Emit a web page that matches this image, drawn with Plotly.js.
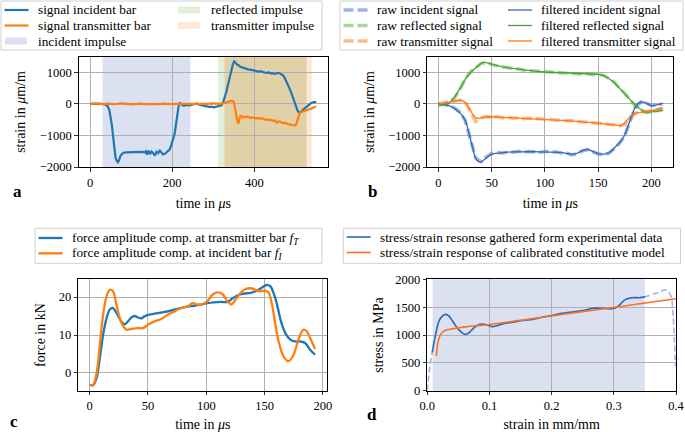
<!DOCTYPE html>
<html>
<head>
<meta charset="utf-8">
<script src="https://cdn.plot.ly/plotly-3.0.1.min.js"></script>
<style>body{margin:0;background:#fff}#fig{width:685px;height:432px}</style>
</head>
<body>
<div id="fig"></div>
<script>
// ---- (a) measured bar signals, strain in um/m over time in us
var tIncA = [0,10,20,30,38,43,47,50,53,56,59,62,65,68,71,74,78,82,88,95,102,110,118,126,130,133,136,139,142,146,150,154,158,162,166,170,174,178,182,186,190,194,198,202,206,210,213,216,219,222,226,230,236,242,248,254,260,266,272,278,284,290,296,302,308,314,320,324,328,332,336,340,344,348,351,354,358,362,366,370,375,380,385,390,395,400,405,410,415,420,425,430,435,440,445,450,455,460,465,470,474,478,482,486,490,494,498,502,506,510,514,518,522,526,530,534,538,542,546,551];
var sigIncA = [0,5,-10,0,-30,-80,-200,-400,-650,-1000,-1400,-1700,-1800,-1850,-1780,-1650,-1580,-1550,-1540,-1530,-1520,-1530,-1520,-1530,-1520,-1540,-1500,-1610,-1480,-1590,-1510,-1560,-1640,-1520,-1560,-1480,-1560,-1600,-1580,-1540,-1500,-1450,-1300,-1150,-950,-600,-300,-50,40,-20,-50,-60,-40,-50,-30,-20,10,-30,-40,-60,-80,-100,-90,-110,-90,-70,-50,40,180,380,600,850,1050,1250,1340,1310,1240,1220,1170,1150,1120,1100,1090,1080,1060,1050,1040,1020,1030,1000,990,980,990,960,970,950,960,980,940,900,820,720,600,480,350,200,60,-100,-230,-280,-260,-200,-150,-120,-60,-20,20,40,60,40];
var tTraA = [0,15,30,45,60,75,90,105,120,135,150,165,180,195,210,225,240,255,270,285,300,315,325,332,338,342,346,350,353,356,359,362,365,368,372,376,380,385,390,395,400,405,410,415,420,425,430,435,440,445,450,455,460,465,470,475,480,485,490,495,499,502,505,508,511,515,520,525,530,535,540,545,551];
var sigTraA = [0,10,-10,5,-15,10,-5,-20,5,-10,0,-15,5,-10,0,-5,10,-15,0,-5,10,0,20,40,60,80,100,60,-100,-350,-560,-620,-420,-380,-440,-410,-420,-400,-450,-430,-440,-470,-450,-480,-460,-500,-490,-520,-500,-540,-520,-600,-550,-580,-610,-600,-640,-650,-670,-680,-690,-650,-520,-380,-290,-250,-230,-220,-200,-170,-150,-110,-95];
var incidentWin = [30.5, 244.5];
var reflectedWin = [312, 528];
var transmitterWin = [327, 540];

// ---- (b) separated waves, raw and filtered
var tRawB = [0,5,10,15,20,25,30,35,40,45,50,55,60,65,70,75,80,85,90,95,100,105,110,115,120,125,130,135,140,145,150,155,160,165,170,175,180,185,190,195,200,205,210];
var rawIncB = [0,-30,-50,-130,-260,-520,-1100,-1720,-1830,-1680,-1570,-1540,-1560,-1520,-1530,-1500,-1530,-1510,-1520,-1540,-1500,-1530,-1520,-1560,-1550,-1620,-1580,-1490,-1450,-1510,-1590,-1610,-1560,-1420,-1250,-1000,-520,-100,50,30,-60,-40,-10];
var rawRefB = [-50,-20,40,180,450,780,1010,1140,1270,1310,1240,1200,1180,1140,1110,1100,1060,1050,1020,1010,1000,990,980,980,960,970,950,940,950,920,930,900,800,690,490,330,120,-60,-190,-280,-250,-220,-190];
var rawTraB = [-20,30,50,80,120,60,-250,-560,-450,-400,-430,-400,-450,-420,-460,-440,-470,-450,-480,-470,-500,-490,-520,-510,-540,-530,-560,-570,-580,-600,-620,-630,-650,-660,-700,-650,-420,-300,-270,-240,-230,-180,-140];
var tIncB = [0,5,10,15,20,23,26,28,30,32,34,36,38,40,42,45,48,52,56,60,65,70,75,80,85,90,95,100,105,110,115,120,125,130,135,140,145,150,155,160,163,166,169,172,175,178,181,184,187,190,193,196,199,202,205,208,211];
var filIncB = [10,-20,-60,-150,-280,-400,-600,-850,-1150,-1450,-1650,-1780,-1840,-1850,-1800,-1700,-1630,-1580,-1560,-1545,-1530,-1520,-1515,-1515,-1515,-1515,-1520,-1525,-1525,-1530,-1540,-1570,-1600,-1570,-1480,-1440,-1500,-1580,-1600,-1550,-1480,-1380,-1280,-1150,-980,-700,-420,-150,0,60,50,0,-50,-60,-40,-20,10];
var tRefB = [0,5,10,15,20,25,30,35,40,43,46,50,55,60,70,80,90,100,110,120,130,140,150,155,160,165,170,175,180,185,190,195,200,205,211];
var filRefB = [-40,-30,20,200,470,770,990,1150,1280,1320,1290,1250,1210,1170,1120,1070,1030,1005,990,975,960,945,935,890,800,670,500,320,130,-50,-180,-270,-260,-240,-200];
var tTraB = [0,5,10,15,20,23,26,29,32,35,38,42,50,60,70,80,90,100,110,120,130,140,150,160,165,170,173,176,179,182,186,190,195,200,205,211];
var filTraB = [-10,20,60,90,110,90,20,-150,-330,-440,-470,-420,-410,-430,-445,-460,-470,-490,-510,-530,-555,-575,-610,-650,-670,-690,-670,-560,-430,-340,-290,-260,-245,-220,-180,-130];

// ---- (c) force equilibrium, kN
var tFT = [0,3,6,8.8,11.6,14.5,17.3,20,23,27,30,33,35.7,38.6,41.4,44.2,47,50,55.6,61.3,67,72.6,78.3,84,89.6,95.3,101,106.7,112.3,118,122.3,126.5,132,138,143.5,147.8,152,155,157.7,160.6,164,167.7,172,176,180.4,184.7,189,193.2];
var forceT = [-3.1,-3.2,-1.3,4.0,10.1,14.4,16.7,17.1,15.8,13.6,12.8,13.6,14.6,15.0,14.6,14.4,14.9,15.3,15.6,15.9,16.2,16.7,17.1,17.5,17.7,18.0,18.4,18.6,18.7,18.7,19.6,20.4,20.9,21.1,21.7,22.5,23.2,22.8,21.0,18.0,13.6,10.5,8.8,8.3,8.3,7.9,6.1,4.8];
var tFI = [0,3,6,8.8,11.6,14.5,17.3,20,23,27.2,31.5,35.7,41.4,45.7,50,55.6,61.3,67,72.6,78.3,84,88.2,92.5,96.7,101,105.3,109.5,113.8,118,121.4,125,129.4,133.6,137.9,142.1,146.4,150.6,153.5,156.3,159.2,162,166.2,170.5,174.8,179,183.3,186.1,189,193.2];
var forceI = [-3.1,-3.1,0,7.5,15.4,20.2,21.9,21.5,18.0,13.2,11.4,11.6,11.8,11.8,12.7,13.6,14.2,15.3,16.2,17.1,17.5,18.4,18.0,18.1,18.9,20.6,21.2,20.8,18.9,18.0,19.3,21.1,22.1,22.3,21.9,21.5,21.7,21.1,18.0,12.7,8.3,4.4,3.1,4.8,8.8,11.4,11.0,9.2,6.3];

// ---- (d) stress/strain, MPa over mm/mm
var strainExp = [0,0.0027,0.0054,0.008,0.0134,0.0188,0.0242,0.0295,0.035,0.04,0.048,0.056,0.0617,0.067,0.075,0.083,0.091,0.099,0.105,0.11,0.121,0.137,0.153,0.169,0.185,0.196,0.212,0.223,0.239,0.255,0.266,0.282,0.295,0.303,0.311,0.319,0.33,0.341,0.35,0.362,0.373,0.381,0.3865,0.392,0.3956,0.3977,0.399];
var stressExp = [0,290,530,690,1010,1250,1340,1370,1340,1260,1130,1040,1010,1040,1130,1190,1190,1170,1150,1160,1200,1230,1260,1280,1320,1340,1380,1400,1420,1450,1480,1480,1470,1490,1560,1640,1670,1670,1685,1730,1770,1810,1790,1690,1310,830,440];
var strainModel = [0.0145,0.017,0.0195,0.0215,0.0245,0.0268,0.031,0.035,0.042,0.051,0.065,0.078,0.1,0.15,0.2,0.25,0.3,0.35,0.4];
var stressModel = [620,860,960,1010,1050,1070,1090,1100,1115,1130,1150,1165,1190,1265,1340,1420,1495,1575,1650];
var calibWin = [0.008, 0.35];

var W = 685, H = 432;
function px(x) { return x / W; }
function py(y) { return 1 - y / H; }

var serif = 'Liberation Serif, Times New Roman, serif';
var blue = '#1f77b4', orange = '#ff7f0e';

var inWin = function (xs, ys, win) {
    var ox = [], oy = [];
    for (var i = 0; i < xs.length; i++) {
        if (xs[i] >= win[0] && xs[i] <= win[1]) { ox.push(xs[i]); oy.push(ys[i]); }
    }
    return {x: ox, y: oy};
};
var expSolid = inWin(strainExp, stressExp, calibWin);

var traces = [
    {x: tIncA, y: sigIncA, xaxis: 'x', yaxis: 'y', name: 'signal incident bar', line: {color: blue, width: 2.2}},
    {x: tTraA, y: sigTraA, xaxis: 'x', yaxis: 'y', name: 'signal transmitter bar', line: {color: orange, width: 2.2}},

    {x: tRawB, y: rawIncB, xaxis: 'x2', yaxis: 'y2', name: 'raw incident signal', line: {color: 'rgba(95,130,210,0.6)', width: 3.5, dash: '10px,4px'}},
    {x: tRawB, y: rawRefB, xaxis: 'x2', yaxis: 'y2', name: 'raw reflected signal', line: {color: 'rgba(110,190,80,0.6)', width: 3.5, dash: '10px,4px'}},
    {x: tRawB, y: rawTraB, xaxis: 'x2', yaxis: 'y2', name: 'raw transmitter signal', line: {color: 'rgba(253,140,60,0.6)', width: 3.5, dash: '10px,4px'}},
    {x: tIncB, y: filIncB, xaxis: 'x2', yaxis: 'y2', name: 'filtered incident signal', line: {color: '#3567b3', width: 1.3}},
    {x: tRefB, y: filRefB, xaxis: 'x2', yaxis: 'y2', name: 'filtered reflected signal', line: {color: '#45a23a', width: 1.3}},
    {x: tTraB, y: filTraB, xaxis: 'x2', yaxis: 'y2', name: 'filtered transmitter signal', line: {color: '#fb7a1c', width: 1.3}},

    {x: tFT, y: forceT, xaxis: 'x3', yaxis: 'y3', name: 'force amplitude comp. at transmitter bar <i>f</i><sub><i>T</i></sub>', line: {color: blue, width: 2.3, shape: 'spline'}},
    {x: tFI, y: forceI, xaxis: 'x3', yaxis: 'y3', name: 'force amplitude comp. at incident bar <i>f</i><sub><i>I</i></sub>', line: {color: orange, width: 2.3, shape: 'spline'}},

    {x: strainExp, y: stressExp, xaxis: 'x4', yaxis: 'y4', name: 'full', line: {color: '#9fb1df', width: 1.5, dash: '6px,3px', shape: 'spline'}},
    {x: expSolid.x, y: expSolid.y, xaxis: 'x4', yaxis: 'y4', name: 'stress/strain resonse gathered form experimental data', line: {color: '#2b6cb3', width: 1.6, shape: 'spline'}},
    {x: strainModel, y: stressModel, xaxis: 'x4', yaxis: 'y4', name: 'stress/strain response of calibrated constitutive model', line: {color: '#ff7020', width: 1.6, shape: 'spline'}}
];
traces.forEach(function (t) { t.type = 'scatter'; t.mode = 'lines'; t.showlegend = false; t.hoverinfo = 'skip'; });

function axis(dom, range, extra) {
    var a = {
        domain: dom, range: range, showgrid: true, gridcolor: '#b0b0b0', gridwidth: 1,
        zeroline: false, showline: true, linecolor: '#000', linewidth: 1, mirror: true,
        ticks: 'outside', ticklen: 3.5, tickcolor: '#000', tickwidth: 0.8,
        tickfont: {family: serif, size: 12.5, color: '#000'}
    };
    for (var k in extra) a[k] = extra[k];
    return a;
}
function ttl(text, off) {
    return {text: text, font: {family: serif, size: 14, color: '#000'}, standoff: off};
}

var domXA = [px(78.7), px(328)], domXB = [px(427.3), px(673.3)];
var domXC = [px(78.3), px(327.3)], domXD = [px(427.3), px(676)];
var domYTop = [py(167), py(57)], domYBot = [py(390.7), py(279.3)];

var layout = {
    width: W, height: H,
    margin: {l: 0, r: 0, t: 0, b: 0},
    paper_bgcolor: '#fff', plot_bgcolor: '#fff',
    showlegend: false,
    xaxis: axis(domXA, [-27.6, 579.6], {anchor: 'y', tickvals: [0, 200, 400], title: ttl('time in <i>μ</i>s', 9)}),
    yaxis: axis(domYTop, [-2000, 1480], {anchor: 'x', tickvals: [-2000, -1000, 0, 1000], title: ttl('strain in <i>μ</i>m/m', 10)}),
    xaxis2: axis(domXB, [-10.5, 220.5], {anchor: 'y2', tickvals: [0, 50, 100, 150, 200], title: ttl('time in <i>μ</i>s', 9)}),
    yaxis2: axis(domYTop, [-2000, 1480], {anchor: 'x2', tickvals: [-2000, -1000, 0, 1000], title: ttl('strain in <i>μ</i>m/m', 10)}),
    xaxis3: axis(domXC, [-9.7, 203.7], {anchor: 'y3', tickvals: [0, 50, 100, 150, 200], title: ttl('time in <i>μ</i>s', 10)}),
    yaxis3: axis(domYBot, [-4.66, 24.66], {anchor: 'x3', tickvals: [0, 10, 20], title: ttl('force in kN', 9)}),
    xaxis4: axis(domXD, [0, 0.4], {anchor: 'y4', tickvals: [0, 0.1, 0.2, 0.3, 0.4], tickformat: '.1f', title: ttl('strain in mm/mm', 10)}),
    yaxis4: axis(domYBot, [0, 2000], {anchor: 'x4', tickvals: [0, 500, 1000, 1500, 2000], title: ttl('stress in MPa', 8)}),
    shapes: [],
    annotations: []
};

// impulse windows in (a), overlap of reflected and transmitter drawn in its own tone
var ov = [Math.max(reflectedWin[0], transmitterWin[0]), Math.min(reflectedWin[1], transmitterWin[1])];
var spans = [
    ['x', incidentWin, '#dbe1f1'],
    ['x', [reflectedWin[0], ov[0]], '#e3f0d8'],
    ['x', ov, '#e1d1a9'],
    ['x', [ov[1], transmitterWin[1]], '#fde8d4'],
    ['x4', [calibWin[0] + 0.0005, calibWin[1]], '#dbe1f1']
];
spans.forEach(function (s) {
    layout.shapes.push({type: 'rect', xref: s[0], yref: s[0].replace('x', 'y') + ' domain', x0: s[1][0], x1: s[1][1], y0: 0, y1: 1,
        fillcolor: s[2], line: {width: 0}, layer: 'below'});
});

// hand-made legends (matplotlib style box, tight rows)
function legendBox(x0, y0, x1, y1) {
    layout.shapes.push({type: 'rect', xref: 'paper', yref: 'paper', x0: px(x0), x1: px(x1), y0: py(y0), y1: py(y1),
        fillcolor: 'rgba(255,255,255,0.8)', line: {color: '#d0d0d0', width: 1}, layer: 'above'});
}
function legendItem(label, x, y, style) {
    if (style.patch) {
        layout.shapes.push({type: 'rect', xref: 'paper', yref: 'paper', x0: px(x), x1: px(x + 22), y0: py(y - 3.5), y1: py(y + 3.5),
            fillcolor: style.patch, line: {width: 0}, layer: 'above'});
    } else {
        layout.shapes.push({type: 'line', xref: 'paper', yref: 'paper', x0: px(x), x1: px(x + 24), y0: py(y), y1: py(y),
            line: style.line, layer: 'above'});
    }
    layout.annotations.push({xref: 'paper', yref: 'paper', x: px(x + 31), y: py(y), xanchor: 'left', yanchor: 'middle',
        text: label, showarrow: false, font: {family: serif, size: 13.3, color: '#000'}});
}
var rows3 = [10, 25.5, 41];

legendBox(1, 1, 322, 50);
legendItem(traces[0].name, 4.5, rows3[0], {line: traces[0].line});
legendItem(traces[1].name, 4.5, rows3[1], {line: traces[1].line});
legendItem('incident impulse', 5, rows3[2], {patch: '#dbe1f1'});
legendItem('reflected impulse', 178, rows3[0], {patch: '#e3f0d8'});
legendItem('transmitter impulse', 178, rows3[1], {patch: '#fde8d4'});

legendBox(340, 1, 683, 50);
for (var i = 0; i < 3; i++) {
    legendItem(traces[2 + i].name, 343.5, rows3[i], {line: traces[2 + i].line});
    legendItem(traces[5 + i].name, 508, rows3[i], {line: traces[5 + i].line});
}

legendBox(35, 228.3, 322, 263.3);
legendItem(traces[8].name, 38.5, 238, {line: traces[8].line});
legendItem(traces[9].name, 38.5, 253.3, {line: traces[9].line});

legendBox(343.3, 228.3, 680.5, 263.3);
legendItem(traces[11].name, 346.7, 237, {line: traces[11].line});
legendItem(traces[12].name, 346.7, 252.5, {line: traces[12].line});

// panel letters
[['a', 17, 191], ['b', 372, 191], ['c', 14, 421], ['d', 372, 414]].forEach(function (p) {
    layout.annotations.push({xref: 'paper', yref: 'paper', x: px(p[1]), y: py(p[2]), xanchor: 'center', yanchor: 'middle',
        text: '<b>' + p[0] + '</b>', showarrow: false, font: {family: serif, size: 17, color: '#000'}});
});

Plotly.newPlot('fig', traces, layout, {staticPlot: true});
</script>
</body>
</html>
